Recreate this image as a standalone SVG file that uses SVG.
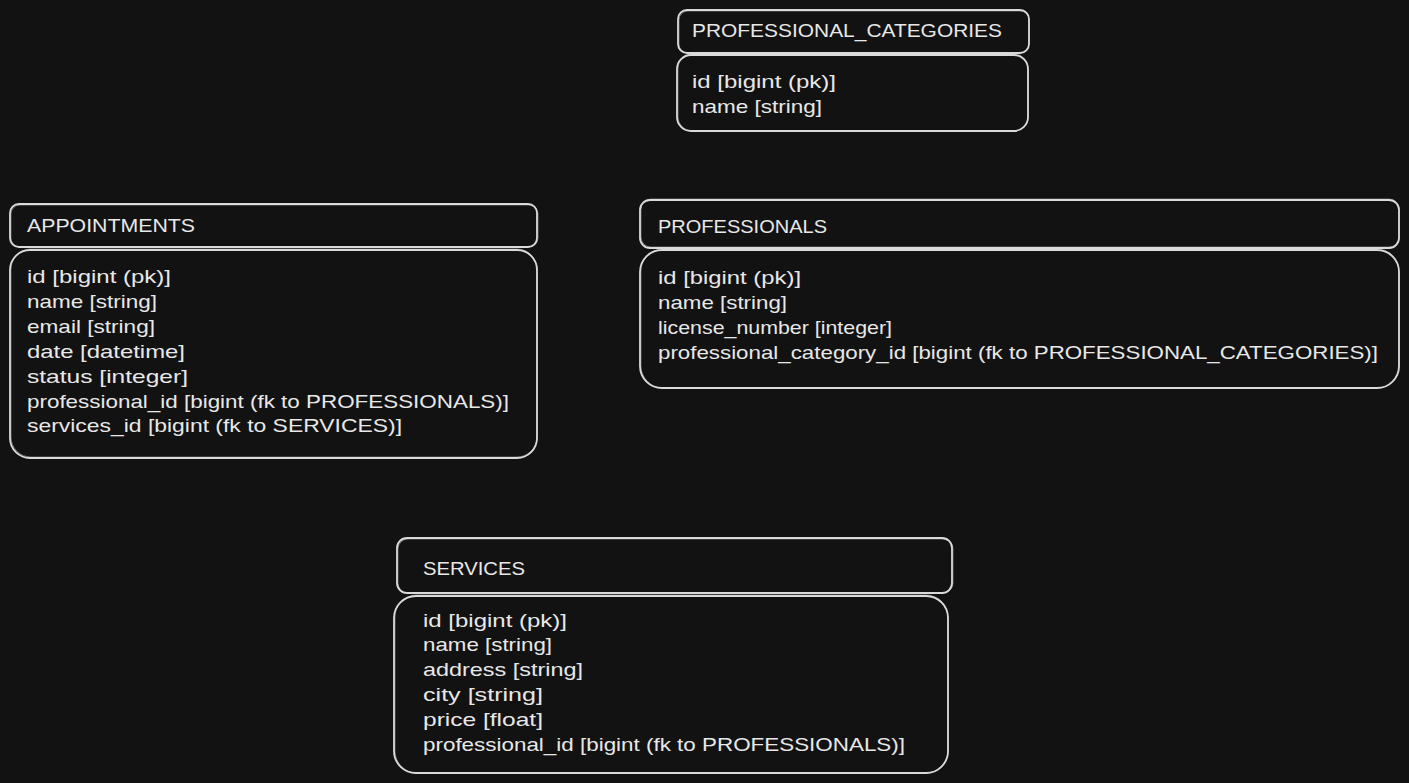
<svg xmlns="http://www.w3.org/2000/svg" width="1409" height="783" viewBox="0 0 1409 783">
<defs>
<style>
.bg{fill:#121212}
.hdr{fill:#121212;stroke:#dadada;stroke-width:1.8}
.body{fill:#121212;stroke:#dadada;stroke-width:1.8}
.sk{fill:none;stroke:#dadada;stroke-width:0.8;opacity:0.55}
text{font-family:"Liberation Sans","DejaVu Sans",sans-serif;font-size:19px;fill:#e8e8e8}
</style>
</defs>
<rect class="bg" x="0" y="0" width="1409" height="783"/>

<g id="professional_categories">
<rect class="hdr" x="678" y="10" width="351" height="43" rx="9"/>
<rect class="sk" x="679" y="11" width="350" height="42" rx="9"/>
<rect class="body" x="677" y="55" width="351" height="76" rx="14"/>
<rect class="sk" x="678" y="54" width="350" height="77" rx="14"/>
<text x="692" y="37" textLength="310" lengthAdjust="spacingAndGlyphs">PROFESSIONAL_CATEGORIES</text>
<text x="692" y="88" textLength="144" lengthAdjust="spacingAndGlyphs">id [bigint (pk)]</text>
<text x="692" y="113" textLength="130" lengthAdjust="spacingAndGlyphs">name [string]</text>
</g>

<g id="appointments">
<rect class="hdr" x="10" y="204" width="527" height="43" rx="9"/>
<rect class="sk" x="11" y="205" width="527" height="42" rx="9"/>
<rect class="body" x="10" y="250" width="527" height="208" rx="20"/>
<rect class="sk" x="11" y="249" width="526" height="208" rx="20"/>
<text x="27" y="232" textLength="168" lengthAdjust="spacingAndGlyphs">APPOINTMENTS</text>
<text x="27" y="283" textLength="144" lengthAdjust="spacingAndGlyphs">id [bigint (pk)]</text>
<text x="27" y="308" textLength="130" lengthAdjust="spacingAndGlyphs">name [string]</text>
<text x="27" y="333" textLength="128" lengthAdjust="spacingAndGlyphs">email [string]</text>
<text x="27" y="358" textLength="158" lengthAdjust="spacingAndGlyphs">date [datetime]</text>
<text x="27" y="383" textLength="161" lengthAdjust="spacingAndGlyphs">status [integer]</text>
<text x="27" y="408" textLength="482" lengthAdjust="spacingAndGlyphs">professional_id [bigint (fk to PROFESSIONALS)]</text>
<text x="27" y="432" textLength="375" lengthAdjust="spacingAndGlyphs">services_id [bigint (fk to SERVICES)]</text>
</g>

<g id="professionals">
<rect class="hdr" x="640" y="200" width="759" height="48" rx="10"/>
<rect class="sk" x="641" y="199" width="758" height="48" rx="10"/>
<rect class="body" x="640" y="250" width="759" height="138" rx="22"/>
<rect class="sk" x="641" y="249" width="758" height="139" rx="22"/>
<text x="658" y="233" textLength="169" lengthAdjust="spacingAndGlyphs">PROFESSIONALS</text>
<text x="658" y="284" textLength="143" lengthAdjust="spacingAndGlyphs">id [bigint (pk)]</text>
<text x="658" y="309" textLength="129" lengthAdjust="spacingAndGlyphs">name [string]</text>
<text x="658" y="334" textLength="234" lengthAdjust="spacingAndGlyphs">license_number [integer]</text>
<text x="658" y="359" textLength="720" lengthAdjust="spacingAndGlyphs">professional_category_id [bigint (fk to PROFESSIONAL_CATEGORIES)]</text>
</g>

<g id="services">
<rect class="hdr" x="397" y="538" width="555" height="55" rx="10"/>
<rect class="sk" x="398" y="539" width="555" height="54" rx="10"/>
<rect class="body" x="394" y="596" width="554" height="177" rx="22"/>
<rect class="sk" x="395" y="595" width="553" height="178" rx="22"/>
<text x="423" y="575" textLength="102" lengthAdjust="spacingAndGlyphs">SERVICES</text>
<text x="423" y="627" textLength="144" lengthAdjust="spacingAndGlyphs">id [bigint (pk)]</text>
<text x="423" y="651" textLength="129" lengthAdjust="spacingAndGlyphs">name [string]</text>
<text x="423" y="676" textLength="160" lengthAdjust="spacingAndGlyphs">address [string]</text>
<text x="423" y="701" textLength="120" lengthAdjust="spacingAndGlyphs">city [string]</text>
<text x="423" y="726" textLength="120" lengthAdjust="spacingAndGlyphs">price [float]</text>
<text x="423" y="751" textLength="482" lengthAdjust="spacingAndGlyphs">professional_id [bigint (fk to PROFESSIONALS)]</text>
</g>

<g id="connectors"></g>
</svg>
